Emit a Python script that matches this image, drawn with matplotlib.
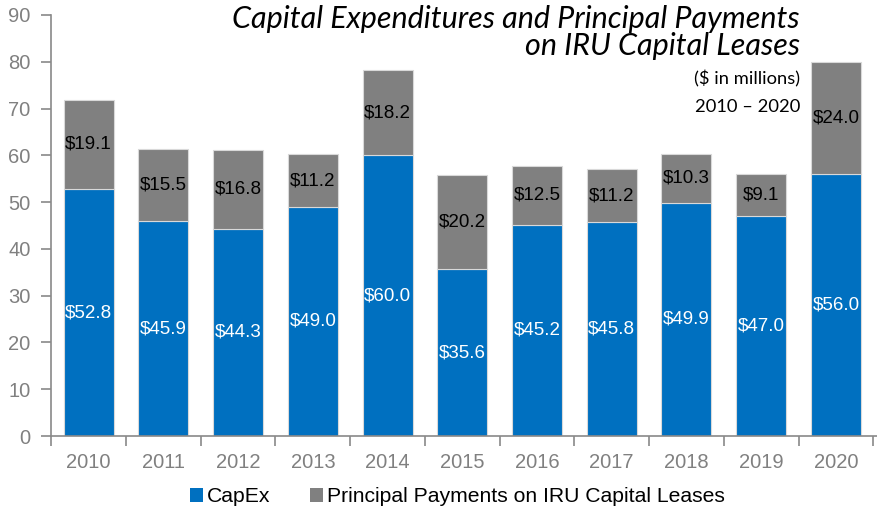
import matplotlib
matplotlib.use("Agg")
import matplotlib.pyplot as plt
import numpy as np
from matplotlib.patches import Patch

years = ["2010", "2011", "2012", "2013", "2014", "2015", "2016", "2017", "2018", "2019", "2020"]
capex = [52.8, 45.9, 44.3, 49.0, 60.0, 35.6, 45.2, 45.8, 49.9, 47.0, 56.0]
principal = [19.1, 15.5, 16.8, 11.2, 18.2, 20.2, 12.5, 11.2, 10.3, 9.1, 24.0]
yticks = [0, 10, 20, 30, 40, 50, 60, 70, 80, 90]

BLUE = "#0070C0"
GRAY = "#808080"
AX = "#898989"

fig = plt.figure(figsize=(8.77, 5.13), dpi=100)
ax = fig.add_axes([51.3 / 877, 1 - 436 / 513, 1 - 51.3 / 877, (436 - 15) / 513])

x = np.arange(len(years))
w = 0.67
ax.bar(x, capex, w, color=BLUE, edgecolor="#D9D9D9", linewidth=0.8, zorder=2)
ax.bar(x, principal, w, bottom=capex, color=GRAY, edgecolor="#D9D9D9", linewidth=0.8, zorder=2)

for i in range(len(years)):
    ax.text(x[i], capex[i] / 2, f"${capex[i]:.1f}", ha="center", va="center",
            color="white", fontsize=13.5, family="Liberation Sans", zorder=3)
    ax.text(x[i], capex[i] + principal[i] / 2, f"${principal[i]:.1f}", ha="center", va="center",
            color="black", fontsize=13.5, family="Liberation Sans", zorder=3)

ax.set_xlim(-0.5, len(years) - 0.5 + 0.05)
ax.set_ylim(0, 90)
ax.set_yticks(yticks)
ax.set_yticklabels([str(v) for v in yticks], fontsize=14.5, color=GRAY, family="Liberation Sans")
ax.set_xticks(np.arange(-0.5, len(years), 1))
ax.set_xticklabels([])
ax.set_xticks(x, minor=True)
ax.set_xticklabels(years, minor=True, fontsize=14.5, color=GRAY, family="Liberation Sans")
ax.tick_params(axis="x", which="major", direction="out", length=7, color=AX, width=1.2)
ax.tick_params(axis="x", which="minor", length=0, pad=12)
ax.tick_params(axis="y", direction="out", length=7, color=AX, width=1.2, pad=8)

for s in ["top", "right"]:
    ax.spines[s].set_visible(False)
for s in ["left", "bottom"]:
    ax.spines[s].set_color(AX)
    ax.spines[s].set_linewidth(1.2)

fig.text(800 / 877, 1 - 28 / 513, "Capital Expenditures and Principal Payments",
         ha="right", va="baseline", fontsize=22, style="italic", family="Lato")
fig.text(800 / 877, 1 - 55 / 513, "on IRU Capital Leases",
         ha="right", va="baseline", fontsize=22, style="italic", family="Lato")
fig.text(800 / 877, 1 - 84 / 513, "($ in millions)", ha="right", va="baseline",
         fontsize=13.2, family="Lato")
fig.text(800 / 877, 1 - 112 / 513, "2010 \u2013 2020", ha="right", va="baseline",
         fontsize=13.2, family="Lato")

handles = [Patch(facecolor=BLUE, edgecolor="none"), Patch(facecolor=GRAY, edgecolor="none")]
fig.legend(handles, ["CapEx", "Principal Payments on IRU Capital Leases"],
           loc="center", bbox_to_anchor=(457.5 / 877, 1 - 497 / 513), ncol=2, frameon=False,
           prop={"family": "Liberation Sans", "size": 15.2}, handlelength=0.62, handleheight=0.62,
           handletextpad=0.2, columnspacing=1.85, borderaxespad=0, borderpad=0)

fig.savefig("out.png", dpi=100)
